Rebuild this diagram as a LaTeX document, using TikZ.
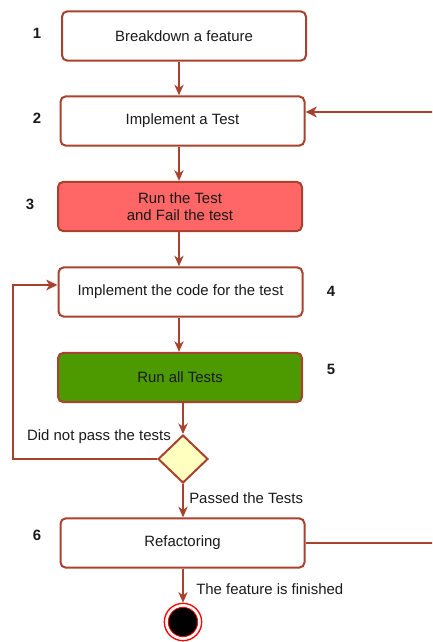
\documentclass[tikz,border=0pt]{standalone}
\usepackage{fontspec}
\setmainfont{Liberation Sans}
\usetikzlibrary{arrows.meta,shapes.geometric}
\definecolor{edge}{HTML}{A8422F}
\definecolor{failred}{HTML}{FF6666}
\definecolor{passgreen}{HTML}{4D9900}
\definecolor{choice}{HTML}{FFFFC0}
\definecolor{ink}{HTML}{1A1A1A}
\tikzset{
  x=0.75pt, y=-0.75pt,
  stepbox/.style={draw=edge, line width=1.5pt, rounded corners=4pt, fill=white,
    minimum width=183pt, minimum height=37pt, align=center, text=ink,
    font=\fontsize{11.2}{12.5}\selectfont, inner sep=0pt},
  num/.style={font=\fontsize{11.2}{12}\selectfont\bfseries, text=ink},
  lbl/.style={font=\fontsize{11.2}{12}\selectfont, text=ink, inner sep=0pt},
  flow/.style={draw=edge, line width=1pt, -{Stealth[length=8pt,width=7pt,inset=2.5pt]}},
  loop/.style={draw=edge, line width=1.6pt, -{Stealth[length=8.5pt,width=8pt,inset=2.5pt]}},
}
\begin{document}
\begin{tikzpicture}
\useasboundingbox (0,0) rectangle (432,642);
\clip (0,0) rectangle (432,642);

% activity boxes
\node[stepbox] (s1) at (184,36) {Breakdown a feature};
\node[stepbox] (s2) at (182.5,121) {Implement a Test};
\node[stepbox, fill=failred] (s3) at (180,206.5) {Run the Test\\and Fail the test};
\node[stepbox] (s4) at (180.5,292) {Implement the code for the test};
\node[stepbox, fill=passgreen] (s5) at (180,377.5) {Run all Tests};
\node[diamond, draw=edge, line width=1.5pt, fill=choice, minimum width=37.5pt,
      minimum height=36pt, inner sep=0pt] (dec) at (183,459) {};
\node[stepbox] (s6) at (182.5,543) {Refactoring};

% final state
\node[circle, draw=red, line width=1pt, fill=white, minimum size=28pt, inner sep=0pt] (endring) at (183,622) {};
\node[circle, draw=red, line width=0.6pt, fill=black, minimum size=22pt, inner sep=0pt] (enddot) at (183,622) {};

% step numbers
\node[num] (n1) at (37,33) {1};
\node[num] (n2) at (37,118) {2};
\node[num] (n3) at (30,204) {3};
\node[num] (n4) at (331,291) {4};
\node[num] (n5) at (331,369) {5};
\node[num] (n6) at (37,535) {6};

% straight flow
\draw[flow] (s1.south -| 179,0) -- (s2.north -| 179,0);
\draw[flow] (s2.south -| 179,0) -- (s3.north -| 179,0);
\draw[flow] (s3.south -| 179,0) -- (s4.north -| 179,0);
\draw[flow] (s4.south -| 179,0) -- (s5.north -| 179,0);
\draw[flow] (s5.south -| dec.north) -- (dec.north);
\draw[flow] (dec.south) -- (s6.north -| dec.south);
\node[lbl, anchor=west] (passlbl) at (189,498) {Passed the Tests};
\draw[flow] (s6.south -| endring.north) -- (endring.north);
\node[lbl, anchor=west] (donelbl) at (196,589) {The feature is finished};

% loops
\coordinate (lback) at (13,459);
\draw[loop] (dec.west) -- (lback) -- (13,285) -- (s4.west |- 0,285);
\node[lbl, anchor=south east] (faillbl) at (171,444) {Did not pass the tests};
\coordinate (rback) at (450,543);
\draw[loop] (s6.east) -- (rback) -- (450,112) -- (s2.east |- 0,112);
\end{tikzpicture}
\end{document}
